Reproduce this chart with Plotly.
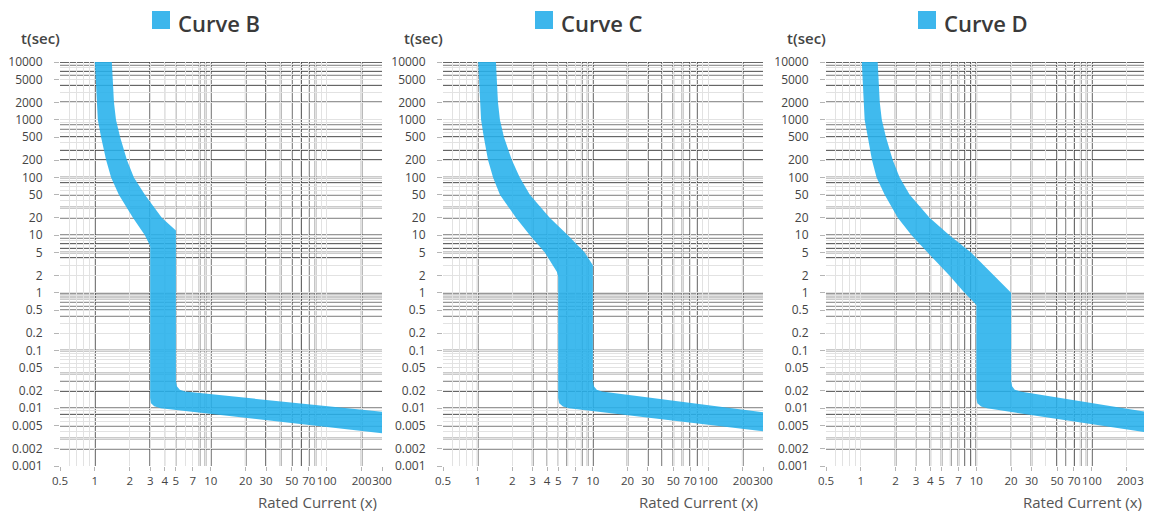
import plotly.graph_objects as go
import math

# the page body adds an 8 px offset; the figure is sized to fill the remaining window
OFF = 8
W, H = 1152 - OFF, 516 - OFF

titles = ["Curve B", "Curve C", "Curve D"]

# ---- tripping bands: (current multiple, time in s) ----
b_min_I = [1.0, 1.02, 1.04, 1.06, 1.13, 1.25, 1.38, 1.61, 2.13, 2.70, 3.0, 3.0, 3.05, 3.25, 3.7, 300]
b_min_t = [10000, 5000, 2000, 1000, 500, 200, 100, 50, 20, 10, 6.5, 0.015, 0.0122, 0.0108, 0.0100, 0.0037]
b_max_I = [1.40, 1.46, 1.52, 1.65, 1.89, 2.17, 2.70, 3.78, 5.0, 5.0, 5.1, 5.4, 6.0, 300]
b_max_t = [10000, 2000, 1000, 500, 200, 100, 50, 20, 12, 0.03, 0.024, 0.021, 0.0195, 0.0087]

c_min_I = [1.01, 1.05, 1.07, 1.13, 1.23, 1.36, 1.56, 2.15, 2.84, 3.83, 4.88, 5.0, 5.0, 5.1, 5.5, 6.2, 300]
c_min_t = [10000, 2000, 1000, 500, 200, 100, 50, 20, 10, 5, 2.3, 1.9, 0.015, 0.0122, 0.0107, 0.0100, 0.0040]
c_max_I = [1.44, 1.50, 1.56, 1.69, 1.98, 2.32, 2.84, 4.22, 6.07, 8.5, 10, 10, 10.2, 10.8, 12, 300]
c_max_t = [10000, 2000, 1000, 500, 200, 100, 50, 20, 10, 5, 3.0, 0.03, 0.024, 0.021, 0.0195, 0.0085]

d_min_I = [1.02, 1.06, 1.08, 1.15, 1.25, 1.37, 1.61, 2.09, 2.75, 3.79, 5.85, 7.9, 10, 10, 10.2, 11, 12.4, 300]
d_min_t = [10000, 2000, 1000, 500, 200, 100, 50, 20, 10, 5, 2, 1, 0.62, 0.015, 0.0122, 0.0107, 0.0100, 0.0038]
d_max_I = [1.40, 1.46, 1.52, 1.65, 1.89, 2.17, 2.65, 3.94, 5.85, 9.0, 11.7, 14.2, 20, 20, 20.4, 21.5, 24, 300]
d_max_t = [10000, 2000, 1000, 500, 200, 100, 50, 20, 10, 5, 3, 2, 1.0, 0.03, 0.024, 0.021, 0.0195, 0.0086]

bands = [
    (b_min_I, b_min_t, b_max_I, b_max_t),
    (c_min_I, c_min_t, c_max_I, c_max_t),
    (d_min_I, d_min_t, d_max_I, d_max_t),
]

# ---- ticks ----
x_ticks = [0.5, 1, 2, 3, 4, 5, 7, 10, 20, 30, 50, 70, 100, 200, 300]
x_tick_text = ["0.5", "1", "2", "3", "4", "5", "7", "10", "20", "30", "50", "70", "100", "200", "300"]
y_ticks = [10000, 5000, 2000, 1000, 500, 200, 100, 50, 20, 10, 5, 2, 1, 0.5, 0.2, 0.1,
           0.05, 0.02, 0.01, 0.005, 0.002, 0.001]
y_tick_text = ["10000", "5000", "2000", "1000", "500", "200", "100", "50", "20", "10", "5", "2",
               "1", "0.5", "0.2", "0.1", "0.05", "0.02", "0.01", "0.005", "0.002", "0.001"]

# heavy grid lines
dark_x = [
    [1, 3, 8, 9, 10, 20, 30, 40, 50, 60, 70, 80, 200],
    [1, 3, 6, 8, 9, 10, 20, 30, 40, 50, 60, 70, 80, 200],
    [2, 4, 5, 6, 7, 8, 9, 10, 30, 50, 60, 70, 80, 90, 100],
]
medium_x = [
    [4, 5],
    [4, 5],
    [3, 20],
]
dark_y = [10000, 9000, 7000, 6000, 4000, 2000, 800, 700, 500, 300, 200, 100, 80, 50, 30, 20,
          10, 9, 7, 6, 5, 4, 1, 0.9, 0.8, 0.7, 0.6, 0.5, 0.4, 0.1, 0.04, 0.03, 0.02, 0.01,
          0.008, 0.005, 0.003, 0.002]

# fine grid (all 1..9 multiples)
minor_x = [m * 10 ** e for e in range(-1, 3) for m in range(1, 10) if 0.5 <= m * 10 ** e <= 300]
minor_y = [m * 10 ** e for e in range(-3, 4) for m in range(1, 10)] + [10000]

BLUE = "rgba(38,177,236,0.88)"
LIGHT = "#e2e2e2"
DARK = "#333333"
FONT = "Open Sans"

# panel edges in window pixels
px_dom = [(60, 382), (443, 763), (826, 1147)]
y_top, y_bot = 62, 466


def px(x):
    return (x - OFF) / W


def py(y):
    return 1 - (y - OFF) / H


fig = go.Figure()
shapes = []
annotations = []

layout = dict(
    width=W, height=H,
    margin=dict(l=0, r=0, t=0, b=0),
    paper_bgcolor="white", plot_bgcolor="white",
    showlegend=False,
    font=dict(family=FONT, color="#444"),
)

for i in range(3):
    sfx = "" if i == 0 else str(i + 1)
    xa, ya = "x" + sfx, "y" + sfx
    mnI, mnT, mxI, mxT = bands[i]
    xs = list(mnI) + list(reversed(mxI)) + [mnI[0]]
    ys = list(mnT) + list(reversed(mxT)) + [mnT[0]]
    fig.add_trace(go.Scatter(x=xs, y=ys, mode="lines", fill="toself", fillcolor=BLUE,
                             line=dict(width=0, color=BLUE), xaxis=xa, yaxis=ya,
                             name=titles[i], hoverinfo="skip"))
    x0, x1 = px_dom[i]
    layout["xaxis" + sfx] = dict(
        domain=[px(x0), min(px(x1), 1.0)], anchor=ya, type="log",
        range=[math.log10(0.5), math.log10(300)],
        tickmode="array", tickvals=x_ticks, ticktext=x_tick_text, tickangle=0,
        ticklabeloverflow="allow",
        tickfont=dict(size=11.5, color="#444", family=FONT),
        ticks="outside", ticklen=4, tickcolor="#b5b5b5", tickwidth=1,
        showgrid=True, gridcolor=LIGHT, gridwidth=1, zeroline=False, showline=False,
        minor=dict(tickvals=minor_x, showgrid=True, gridcolor=LIGHT, gridwidth=1, ticks=""),
        automargin=False, fixedrange=True,
    )
    layout["yaxis" + sfx] = dict(
        domain=[py(y_bot), py(y_top)], anchor=xa, type="log",
        range=[-3, 4],
        tickmode="array", tickvals=y_ticks, ticktext=y_tick_text,
        tickfont=dict(size=12, color="#444", family=FONT),
        ticks="outside", ticklen=5, tickcolor="#b5b5b5", tickwidth=1,
        ticklabelstandoff=9,
        showgrid=True, gridcolor=LIGHT, gridwidth=1, zeroline=False, showline=False,
        minor=dict(tickvals=minor_y, showgrid=True, gridcolor=LIGHT, gridwidth=1, ticks=""),
        automargin=False, fixedrange=True,
    )
    # heavy grid lines
    for v in dark_x[i]:
        shapes.append(dict(type="line", xref=xa, yref=ya + " domain", x0=v, x1=v, y0=0, y1=1,
                           line=dict(color=DARK, width=1.5), layer="below"))
    for v in medium_x[i]:
        shapes.append(dict(type="line", xref=xa, yref=ya + " domain", x0=v, x1=v, y0=0, y1=1,
                           line=dict(color="#7a7a7a", width=1), layer="below"))
    for v in dark_y:
        shapes.append(dict(type="line", xref=xa + " domain", yref=ya, x0=0, x1=1, y0=v, y1=v,
                           line=dict(color=DARK, width=1.5), layer="below"))
    # title legend square + title text
    shapes.append(dict(type="rect", xref="paper", yref="paper",
                       x0=px(x0 + 92), x1=px(x0 + 110),
                       y0=py(29), y1=py(11),
                       fillcolor="#3db6ec", line=dict(width=0)))
    annotations.append(dict(text=titles[i], xref="paper", yref="paper",
                            x=px(x0 + 116), y=py(23), xanchor="left", yanchor="middle",
                            showarrow=False,
                            font=dict(size=22, color="#3a3a3a", family=FONT, weight=600)))
    annotations.append(dict(text="t(sec)", xref="paper", yref="paper",
                            x=px(x0 - 20), y=py(38), xanchor="center", yanchor="middle",
                            showarrow=False,
                            font=dict(size=15, color="#444", family=FONT, weight=600)))
    annotations.append(dict(text="Rated Current (x)", xref="paper", yref="paper",
                            x=min(px(x1 - 3), 1.0), y=py(502), xanchor="right", yanchor="middle",
                            showarrow=False,
                            font=dict(size=15, color="#555", family=FONT)))

layout["shapes"] = shapes
layout["annotations"] = annotations
fig.update_layout(**layout)
fig.write_html("out.html")
